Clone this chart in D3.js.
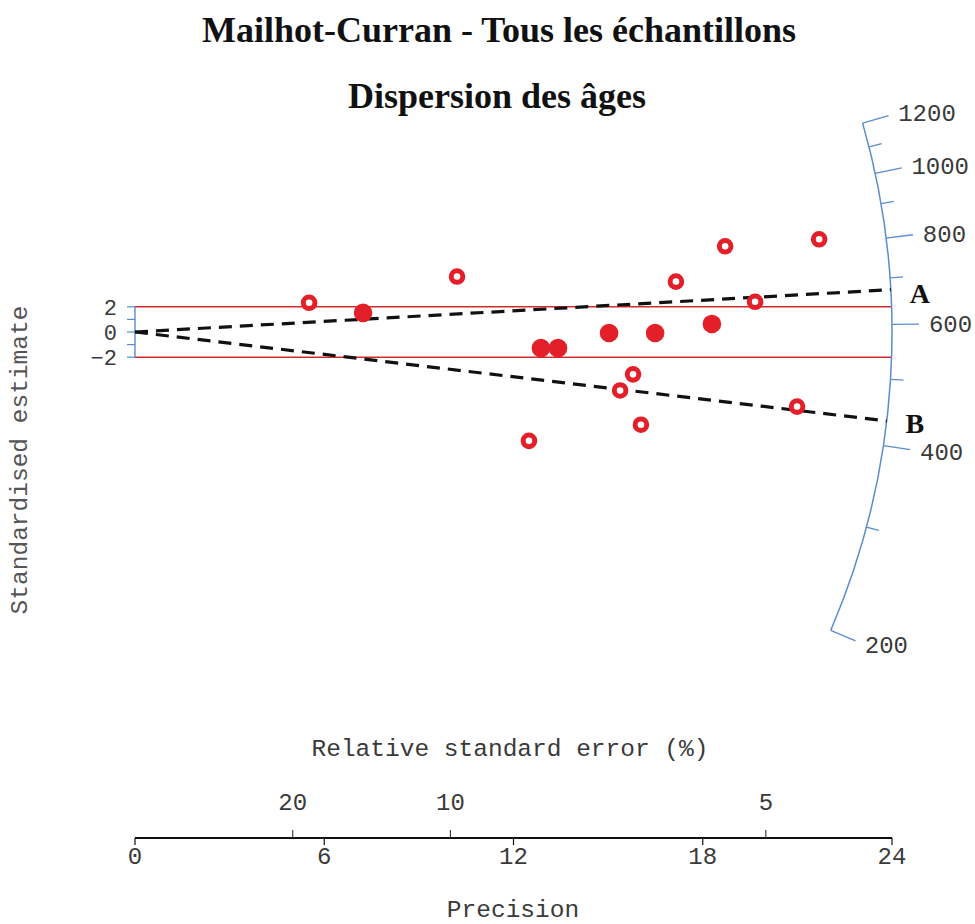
<!DOCTYPE html>
<html>
<head>
<meta charset="utf-8">
<script src="https://cdn.jsdelivr.net/npm/d3@7"></script>
<style>
  html, body { margin: 0; padding: 0; background: #fff; }
  svg { display: block; }
</style>
</head>
<body>
<svg id="chart" width="975" height="924"></svg>
<script>
// ---------- data ----------
const titleLines = ["Mailhot-Curran - Tous les échantillons", "Dispersion des âges"];
// precision (1 / relative error) of each grain
const precision = [5.52, 7.23, 10.21, 12.49, 12.87, 13.41, 15.03, 15.38, 15.79, 16.04, 16.49, 17.15, 18.29, 18.71, 19.66, 20.99, 21.69];
// standardised estimate of each grain
const zscore    = [2.32, 1.52, 4.40, -8.64, -1.28, -1.28, -0.08, -4.64, -3.36, -7.36, -0.08, 4.00, 0.64, 6.80, 2.40, -5.92, 7.36];
// 1 = filled marker, 0 = open marker
const filled    = [0, 1, 0, 0, 1, 1, 1, 0, 0, 0, 1, 0, 1, 0, 0, 0, 0];

const centralAge = 585;               // age at the horizontal of the radial scale
const ageMajor = [200, 400, 600, 800, 1000, 1200];
const ageMinor = [300, 500, 700, 900, 1100];
const ageRange = [200, 1200];
const components = [{label: "A", age: 673}, {label: "B", age: 435}];

const precisionTicks = [0, 6, 12, 18, 24];
const rseTicks = [20, 10, 5];          // relative standard error (%)
const zTicksLabelled = [2, 0, -2];
const zTicksAll = [-2, -1, 0, 1, 2];

// ---------- layout ----------
const svg = d3.select("#chart");
const mono = "'Liberation Mono', 'Courier New', monospace";
const serif = "'Liberation Serif', 'Times New Roman', serif";
const red = "#e3202a";
const blue = "#5a8ccb";
const textGrey = "#3a3a3a";

const x = d3.scaleLinear().domain([0, 24]).range([135, 892]);
const y = d3.scaleLinear().domain([-2, 2]).range([357.2, 306.8]);
const x0 = x(0), y0 = y(0);
const R = x(24) - x(0);
const pxPerZ = y(0) - y(1);
const pxPerX = x(1) - x(0);

// upward pixel angle of the line of a given age
function ageAngle(t) {
  const slope = Math.log(t / centralAge);          // z per unit precision
  return Math.atan2(slope * pxPerZ, pxPerX);
}
function arcPoint(t, r) {
  const a = ageAngle(t);
  return [x0 + r * Math.cos(a), y0 - r * Math.sin(a)];
}

// ---------- titles ----------
svg.selectAll("text.title").data(titleLines).enter().append("text")
  .attr("class", "title")
  .attr("x", (d, i) => i === 0 ? 499 : 497)
  .attr("y", (d, i) => i === 0 ? 42 : 108)
  .attr("text-anchor", "middle")
  .style("font-family", serif)
  .style("font-weight", "bold")
  .style("font-size", "36px")
  .attr("fill", "#111")
  .text(d => d);

// ---------- ±2 band ----------
svg.selectAll("line.band").data([2, -2]).enter().append("line")
  .attr("class", "band")
  .attr("x1", x0)
  .attr("x2", d => x0 + Math.sqrt(R * R - (y(d) - y0) ** 2))
  .attr("y1", d => y(d)).attr("y2", d => y(d))
  .attr("stroke", "#d62a2a").attr("stroke-width", 1.6);

// ---------- left z axis ----------
svg.append("line")
  .attr("x1", x0).attr("x2", x0)
  .attr("y1", y(-2)).attr("y2", y(2))
  .attr("stroke", blue).attr("stroke-width", 1.4);
svg.selectAll("line.ztick").data(zTicksAll).enter().append("line")
  .attr("class", "ztick")
  .attr("x1", x0 - 8).attr("x2", x0)
  .attr("y1", d => y(d)).attr("y2", d => y(d))
  .attr("stroke", blue).attr("stroke-width", 1.2);
svg.selectAll("text.zlab").data(zTicksLabelled).enter().append("text")
  .attr("class", "zlab")
  .attr("x", x0 - 18)
  .attr("y", d => y(d))
  .attr("dy", "0.35em")
  .attr("text-anchor", "end")
  .style("font-family", mono).style("font-size", "22px")
  .attr("fill", textGrey)
  .text(d => d < 0 ? "\u2212" + Math.abs(d) : d);

svg.append("text")
  .attr("transform", `translate(27,${460}) rotate(-90)`)
  .attr("text-anchor", "middle")
  .style("font-family", mono).style("font-size", "24.5px")
  .attr("fill", "#555")
  .text("Standardised estimate");

// ---------- radial age scale ----------
const arcGen = d3.arc()
  .innerRadius(R).outerRadius(R)
  .startAngle(Math.PI / 2 - ageAngle(ageRange[1]))
  .endAngle(Math.PI / 2 - ageAngle(ageRange[0]));
svg.append("path")
  .attr("transform", `translate(${x0},${y0})`)
  .attr("d", arcGen())
  .attr("fill", "none").attr("stroke", blue).attr("stroke-width", 1.5);

svg.selectAll("line.amaj").data(ageMajor).enter().append("line")
  .attr("class", "amaj")
  .attr("x1", d => arcPoint(d, R)[0]).attr("y1", d => arcPoint(d, R)[1])
  .attr("x2", d => arcPoint(d, R + 27)[0]).attr("y2", d => arcPoint(d, R + 27)[1])
  .attr("stroke", blue).attr("stroke-width", 1.3);
svg.selectAll("line.amin").data(ageMinor).enter().append("line")
  .attr("class", "amin")
  .attr("x1", d => arcPoint(d, R)[0]).attr("y1", d => arcPoint(d, R)[1])
  .attr("x2", d => arcPoint(d, R + 13)[0]).attr("y2", d => arcPoint(d, R + 13)[1])
  .attr("stroke", blue).attr("stroke-width", 1.3);
svg.selectAll("text.alab").data(ageMajor).enter().append("text")
  .attr("class", "alab")
  .attr("x", d => arcPoint(d, R + 37)[0])
  .attr("y", d => arcPoint(d, R + 37)[1])
  .attr("dy", "0.35em")
  .style("font-family", mono).style("font-size", "24px")
  .attr("fill", textGrey)
  .text(d => d);

// ---------- component lines ----------
svg.selectAll("line.comp").data(components).enter().append("line")
  .attr("class", "comp")
  .attr("x1", x0).attr("y1", y0)
  .attr("x2", d => arcPoint(d.age, R)[0]).attr("y2", d => arcPoint(d.age, R)[1])
  .attr("stroke", "#111").attr("stroke-width", 3.2)
  .attr("stroke-dasharray", "13,8");
svg.selectAll("text.comp").data(components).enter().append("text")
  .attr("class", "comp")
  .attr("x", d => arcPoint(d.age, R + 19)[0])
  .attr("y", d => arcPoint(d.age, R + 19)[1] + (d.label === "A" ? 5 : 0))
  .attr("dy", "0.35em")
  .style("font-family", serif).style("font-weight", "bold").style("font-size", "28px")
  .attr("fill", "#111")
  .text(d => d.label);

// ---------- points ----------
const pts = precision.map((p, i) => ({p, z: zscore[i], f: filled[i]}));
svg.selectAll("circle.pt").data(pts).enter().append("circle")
  .attr("class", "pt")
  .attr("cx", d => x(d.p))
  .attr("cy", d => y0 - d.z * pxPerZ)
  .attr("r", d => d.f ? 9.3 : 5.8)
  .attr("fill", d => d.f ? red : "#fff")
  .attr("stroke", red)
  .attr("stroke-width", d => d.f ? 0 : 5);

// ---------- bottom axis ----------
const axisY = 838;
svg.append("line")
  .attr("x1", x(0)).attr("x2", x(24))
  .attr("y1", axisY).attr("y2", axisY)
  .attr("stroke", "#111").attr("stroke-width", 1.8);
svg.selectAll("line.ptick").data(precisionTicks).enter().append("line")
  .attr("class", "ptick")
  .attr("x1", d => x(d)).attr("x2", d => x(d))
  .attr("y1", axisY).attr("y2", axisY + 7)
  .attr("stroke", "#111").attr("stroke-width", 1.2);
svg.selectAll("text.plab").data(precisionTicks).enter().append("text")
  .attr("class", "plab")
  .attr("x", d => x(d)).attr("y", 864)
  .attr("text-anchor", "middle")
  .style("font-family", mono).style("font-size", "24px")
  .attr("fill", textGrey)
  .text(d => d);
svg.selectAll("line.rtick").data(rseTicks).enter().append("line")
  .attr("class", "rtick")
  .attr("x1", d => x(100 / d)).attr("x2", d => x(100 / d))
  .attr("y1", axisY).attr("y2", axisY - 8)
  .attr("stroke", "#333").attr("stroke-width", 1.1);
svg.selectAll("text.rlab").data(rseTicks).enter().append("text")
  .attr("class", "rlab")
  .attr("x", d => x(100 / d)).attr("y", 810)
  .attr("text-anchor", "middle")
  .style("font-family", mono).style("font-size", "24px")
  .attr("fill", textGrey)
  .text(d => d);

svg.append("text")
  .attr("x", 510).attr("y", 756)
  .attr("text-anchor", "middle")
  .style("font-family", mono).style("font-size", "24.5px")
  .attr("fill", textGrey)
  .text("Relative standard error (%)");
svg.append("text")
  .attr("x", 513).attr("y", 917)
  .attr("text-anchor", "middle")
  .style("font-family", mono).style("font-size", "24.5px")
  .attr("fill", textGrey)
  .text("Precision");
</script>
</body>
</html>
